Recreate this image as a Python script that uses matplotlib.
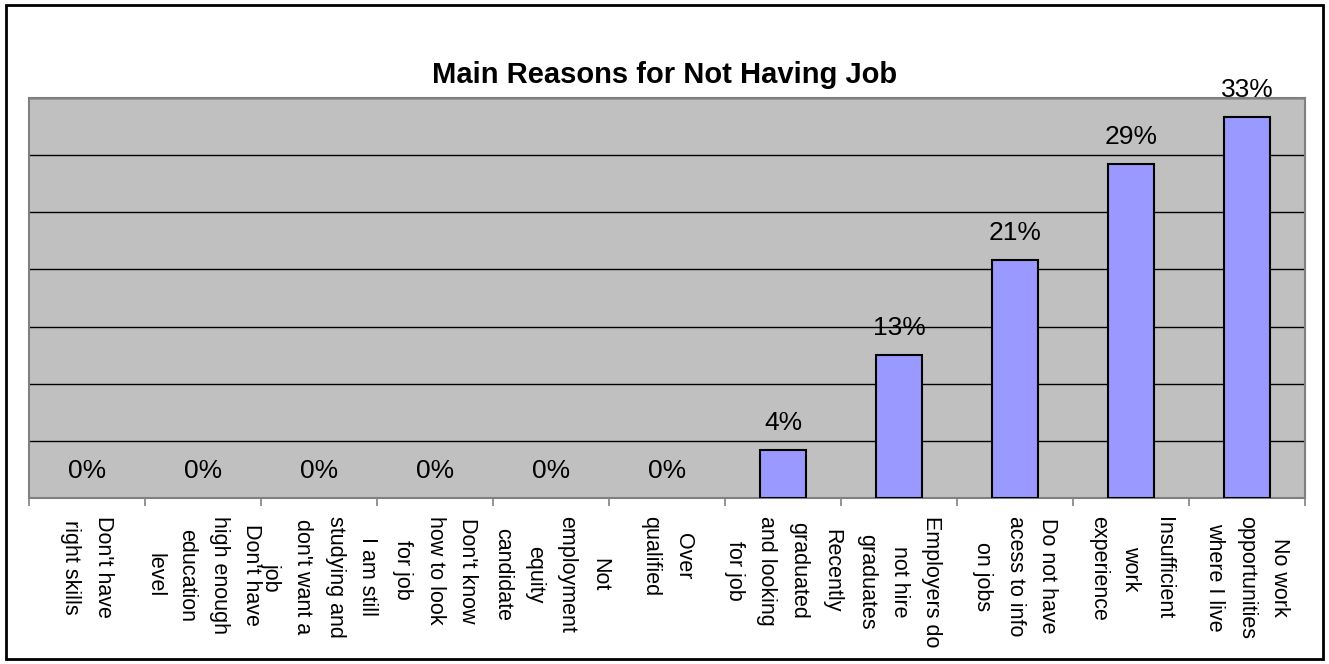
import matplotlib.pyplot as plt
import numpy as np
from matplotlib.patches import Rectangle
from matplotlib.ticker import FixedLocator

plt.rcParams["font.family"] = ["Liberation Sans", "DejaVu Sans"]

categories = [
    "Don't have\nright skills",
    "Don't have\nhigh enough\neducation\nlevel",
    "I am still\nstudying and\ndon't want a\njob",
    "Don't know\nhow to look\nfor job",
    "Not\nemployment\nequity\ncandidate",
    "Over\nqualified",
    "Recently\ngraduated\nand looking\nfor job",
    "Employers do\nnot hire\ngraduates",
    "Do not have\nacess to info\non jobs",
    "Insufficient\nwork\nexperience",
    "No work\nopportunities\nwhere I live",
]
shares = [0, 0, 0, 0, 0, 0, 0.042, 0.125, 0.208, 0.292, 0.333]
y_max = 0.35
grid_step = 0.05

W, H = 1329, 664
fig = plt.figure(figsize=(W / 100, H / 100), dpi=100)
ax = fig.add_axes([29 / W, 1 - 498 / H, (1305 - 29) / W, 400 / H])
ax.set_facecolor("#C0C0C0")

x = np.arange(len(categories))
edge_w = [1.5 if v > 0 else 0 for v in shares]
bars = ax.bar(x, shares, width=0.4, color="#9999FF", edgecolor="black", linewidth=edge_w, zorder=3)

for xi, v in zip(x, shares):
    ax.annotate(f"{int(v * 100 + 0.5)}%", (xi, v), xytext=(0, 14.5), textcoords="offset points",
                ha="center", va="baseline", fontsize=19, color="black", zorder=4)

ax.set_xlim(-0.5, len(categories) - 0.5)
ax.set_ylim(0, y_max)
ax.set_yticks(np.arange(0, y_max + 1e-9, grid_step))
ax.yaxis.set_ticklabels([])
ax.tick_params(axis="y", length=0)
ax.grid(True, axis="y", color="black", linewidth=1.0, zorder=1)
ax.set_axisbelow(True)

ax.set_xticks(x)
ax.set_xticklabels(categories, rotation=270, ha="center", va="top", multialignment="center",
                   fontsize=15.5, linespacing=1.7)
ax.tick_params(axis="x", which="major", length=0, pad=13)
ax.xaxis.set_minor_locator(FixedLocator(np.arange(-0.5, len(categories), 1.0)))
ax.tick_params(axis="x", which="minor", length=6, width=1.2, color="#808080", direction="out")

for side in ax.spines.values():
    side.set_color("#808080")
    side.set_linewidth(1.5)

fig.text(0.5, 1 - 75 / H, "Main Reasons for Not Having Job", ha="center", va="center",
         fontsize=21, fontweight="bold")

fig.add_artist(Rectangle((6 / W, 1 - 659 / H), (1323 - 6) / W, (659 - 5) / H,
                         transform=fig.transFigure, fill=False, edgecolor="black", linewidth=2))

fig.savefig("out.png", dpi=100)
